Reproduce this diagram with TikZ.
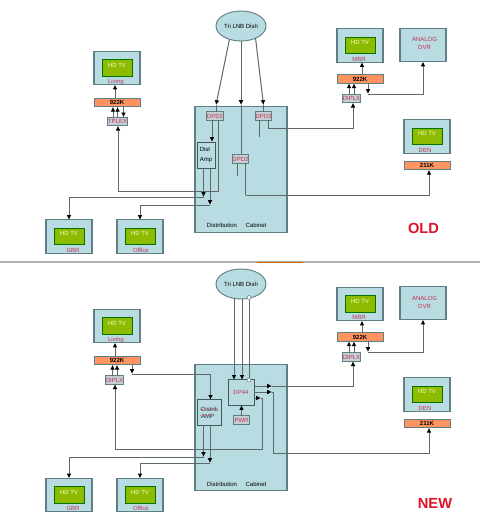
\documentclass[tikz,border=0pt]{standalone}
\usepackage{fontspec}
\setmainfont{Liberation Sans}
\usetikzlibrary{arrows.meta,shapes.geometric}
\definecolor{pale}{HTML}{B8DCE2}
\definecolor{edge}{HTML}{5F7F84}
\definecolor{wirec}{HTML}{5F6868}
\definecolor{tvgreen}{HTML}{8DBB00}
\definecolor{salmon}{HTML}{FF9460}
\definecolor{lab}{HTML}{C42F50}
\definecolor{bigred}{HTML}{DC1428}
\definecolor{small}{HTML}{C4D0D6}
\newcommand{\fs}{\fontsize{4.5pt}{5.3pt}\selectfont}
\tikzset{
  x=0.75pt,y=-0.75pt,
  base/.style={inner sep=0pt,outer sep=0pt,font=\fs},
  tvbox/.style={base,draw=edge,fill=pale,line width=.8pt,minimum width=34.5pt,minimum height=25pt},
  screen/.style={base,draw=black!55!green,fill=tvgreen,line width=.7pt,minimum width=22.5pt,minimum height=12.5pt},
  tvtext/.style={base,text=white!80!yellow},
  lbl/.style={base,text=lab},
  rx/.style={base,draw=edge,fill=salmon,line width=.7pt,minimum width=34.5pt,minimum height=6.5pt,font=\fs\bfseries},
  tag/.style={base,draw=edge,fill=small,line width=.7pt,minimum height=6.3pt,text=lab},
  cab/.style={base,draw=edge,fill=pale,line width=.9pt,minimum width=69pt},
  amp/.style={base,draw=edge!70!black,fill=pale,line width=.7pt,align=left},
  dish/.style={base,ellipse,draw=edge,fill=pale,line width=.7pt,minimum width=37.5pt,minimum height=22.5pt},
  wire/.style={draw=wirec,line width=.75pt},
  arr/.style={wire,-{Latex[length=3.6pt,width=3.6pt,color=black]}},
  big/.style={base,text=bigred,font=\fontsize{11pt}{12pt}\selectfont\bfseries},
  rule/.style={draw=black!30,line width=1.4pt},
  squig/.style={draw=lab!70,line width=.35pt,densely dotted},
}
\newcommand{\tv}[5]{% name, cx, cy, label, label dx
  \node[tvbox] (#1) at (#2,#3) {};
  \node[screen] (#1s) at (#2,#3) {};
  \node[tvtext] (#1t) at (#2,#3-3) {HD TV};
  \node[lbl] (#1l) at (#2+#5,#3+13.5) {#4};
}
\begin{document}
\begin{tikzpicture}
\useasboundingbox (0,0) rectangle (480,525);
\fill[white] (0,0) rectangle (480,525);
\coordinate (ruleL) at (0,262);
\coordinate (ruleR) at (480,262);
\coordinate (markL) at (257,262.5);
\coordinate (markR) at (303,262.5);
\draw[rule] (ruleL) -- (ruleR);
\draw[draw=orange!80!black,line width=1.2pt] (markL) -- (markR);

% ---------- OLD ----------
\node[cab,minimum height=94pt] (cabA) at (241,169.5) {};
\node[base] (cabAd) at (222,225.5) {Distribution};
\node[base] (cabAc) at (256,225.5) {Cabinet};
\node[dish] (dishA) at (241,26) {Tri LNB Dish};
\tv{liv}{117}{68}{Living}{-1}
\node[rx] (rxL) at (117,102.5) {922K};
\node[tag,minimum width=15.5pt] (tplex) at (117.5,121.5) {TPLEX};
\tv{gbr}{69}{236.5}{GBR}{4}
\tv{off}{140}{236.5}{Office}{1}
\node[tag,minimum width=12.5pt] (dpa) at (215,116) {DPD2};
\node[tag,minimum width=12.5pt] (dpb) at (263.5,116) {DPD2};
\node[tag,minimum width=12.5pt] (dpc) at (240.5,159) {DPD2};
\node[amp,minimum width=13.5pt,minimum height=19.5pt] (dist) at (206,155) {Dist\\[1.6pt]Amp};
\tv{mbr}{360}{45.5}{MBR}{-1}
\node[rx] (rxM) at (360,79) {922K};
\node[tag,minimum width=12.5pt] (dplxM) at (351.5,98.5) {DIPLX};
\node[tvbox] (dvr) at (423,45) {};
\node[lbl,align=center] (dvrt) at (424.5,43) {ANALOG\\[.6pt]DVR};
\tv{den}{427}{136.5}{DEN}{-2}
\node[rx] (rxD) at (427,165.5) {211K};
\node[big] (old) at (423.5,228) {OLD};

\coordinate (a1) at (216,105);
\coordinate (a2) at (241,105);
\coordinate (a3) at (263.5,105);
\coordinate (a4) at (203.5,197);
\coordinate (a5) at (210,205);
\coordinate (a6) at (218,191);
\coordinate (a7) at (118,191);
\coordinate (a8) at (268,128);
\coordinate (a9) at (245.5,195);
\coordinate (a10) at (368,94);
\coordinate (s1) at (113,0);\coordinate (s2) at (117.5,0);\coordinate (s3) at (123.5,0);
\coordinate (s4) at (349,0);\coordinate (s5) at (354,0);
\coordinate (s6) at (237,176);
\coordinate (s7) at (259.5,137);
\draw[arr] (dishA.-131) -- (a1);
\draw[wire] (a1) -- (dpa.north -| a1);
\draw[arr] (dishA.south -| a2) -- (a2);
\draw[wire] (a2) -- (dpc.north -| a2);
\draw[arr] (dishA.-40) -- (a3);
\draw[wire] (a3) -- (dpb.north);
\draw[arr] (dpa.south -| 212,0) -- (dist.north -| 212,0);
\draw[arr] (dist.south -| a4) -- (a4);
\draw[arr] (a4) -| (gbr.north);
\draw[arr] (dist.south -| a5) -- (a5);
\draw[arr] (a5) -| (off.north);
\draw[wire] (dpa.south -| a6) -- (a6) -- (a7);
\draw[arr] (a7) -- (tplex.south -| a7);
\draw[arr] (rxL.north -| 115,0) -- (liv.south -| 115,0);
\draw[arr] (tplex.north -| s1) -- (rxL.south -| s1);
\draw[arr] (tplex.north -| s2) -- (rxL.south -| s2);
\draw[arr] (rxL.south -| s3) -- (tplex.north -| s3);
\draw[wire] (dpc.south -| s6) -- (s6);
\draw[wire] (dpb.south -| s7) -- (s7);
\draw[wire] (dpb.south -| a8) -- (a8);
\draw[arr] (a8) -| (dplxM.south -| 353,0);
\draw[wire] (dpc.south -| a9) -- (a9);
\draw[arr] (a9) -| (rxD.south -| 429,0);
\draw[arr] (rxM.north -| 362,0) -- (mbr.south -| 362,0);
\draw[arr] (dplxM.north -| s4) -- (rxM.south -| s4);
\draw[arr] (dplxM.north -| s5) -- (rxM.south -| s5);
\draw[arr] (rxM.south -| a10) -- (a10);
\draw[arr] (a10) -| (dvr.south);

% ---------- NEW ----------
\node[cab,minimum height=94pt] (cabB) at (241,427.5) {};
\node[base] (cabBd) at (222,484) {Distribution};
\node[base] (cabBc) at (256,484) {Cabinet};
\node[dish] (dishB) at (241,284) {Tri LNB Dish};
\tv{livB}{117}{326}{Living}{-1}
\node[rx] (rxLB) at (117,360.5) {922K};
\node[tag,minimum width=12.5pt] (dplxL) at (114.5,380) {DIPLX};
\tv{gbrB}{69}{495}{GBR}{4}
\tv{offB}{140}{495}{Office}{1}
\node[amp,minimum width=18.5pt,minimum height=19pt,text=black!85] (distB) at (209.5,412.5) {Distrib\\AMP};
\node[base,draw=edge!70!black,fill=pale,line width=.7pt,minimum width=19.5pt,minimum height=19pt,text=lab] (dp44) at (241,392.5) {DP44};
\node[tag,minimum width=12.5pt] (pwr) at (241.5,420) {PWR};
\tv{mbrB}{360}{304}{MBR}{-1}
\node[rx] (rxMB) at (360,337) {922K};
\node[tag,minimum width=12.5pt] (dplxB) at (351.5,357) {DIPLX};
\node[tvbox] (dvrB) at (423,303) {};
\node[lbl,align=center] (dvrBt) at (424.5,302) {ANALOG\\[.6pt]DVR};
\tv{denB}{427}{394.5}{DEN}{-2}
\node[rx] (rxDB) at (427,423.5) {211K};
\node[big] (new) at (435,503) {NEW};
\node[base,circle,draw=edge,fill=white,line width=.4pt,minimum size=3pt] (portA) at (249,297.5) {};
\node[base,circle,draw=edge,fill=white,line width=.4pt,minimum size=3pt] (portB) at (249,380) {};
\coordinate (u1a) at (200,409);\coordinate (u1b) at (216,409);
\coordinate (u2a) at (200,415.5);\coordinate (u2b) at (212,415.5);
\draw[squig] (u1a) -- (u1b);
\draw[squig] (u2a) -- (u2b);

\coordinate (b1) at (132,374);
\coordinate (b2) at (210.5,374);
\coordinate (b3) at (203.5,457);
\coordinate (b4) at (210,463);
\coordinate (b5) at (272,386);
\coordinate (b6) at (272,392);
\coordinate (b7) at (261,398);
\coordinate (b8) at (262,449);
\coordinate (b9) at (115,449);
\coordinate (b10) at (273,453);
\coordinate (b11) at (368,352);
\coordinate (t1) at (234,0);\coordinate (t2) at (242,0);
\coordinate (t3) at (112.5,0);\coordinate (t4) at (117,0);
\draw[arr] (dishB.south -| t1) -- (dp44.north -| t1);
\draw[arr] (dishB.south -| t2) -- (dp44.north -| t2);
\draw[wire] (portA) -- (portB);
\draw[arr] (pwr.north) -- (dp44.south -| pwr.north);
\draw[arr] (rxLB.north -| 115,0) -- (livB.south -| 115,0);
\draw[arr] (dplxL.north -| t3) -- (rxLB.south -| t3);
\draw[arr] (dplxL.north -| t4) -- (rxLB.south -| t4);
\draw[arr] (rxLB.south -| b1) -- (b1);
\draw[wire] (b1) -- (b2);
\draw[arr] (b2) -- (distB.north -| b2);
\draw[arr] (distB.south -| b3) -- (b3);
\draw[arr] (b3) -| (gbrB.north);
\draw[arr] (distB.south -| b4) -- (b4);
\draw[arr] (b4) -| (offB.north);
\draw[arr] (dp44.east |- b5) -- (b5);
\draw[arr] (b5) -| (dplxB.south -| 353,0);
\draw[arr] (dp44.east |- b6) -- (b6);
\draw[wire] (b6) -| (b10);
\draw[arr] (b10) -| (rxDB.south -| 429,0);
\draw[arr] (dp44.east |- b7) -- (b7);
\draw[wire] (b7) -- (b8 |- b7) -- (b8) -- (b9);
\draw[arr] (b9) -- (dplxL.south -| b9);
\draw[arr] (rxMB.north -| 362,0) -- (mbrB.south -| 362,0);
\draw[arr] (dplxB.north -| 349,0) -- (rxMB.south -| 349,0);
\draw[arr] (dplxB.north -| 354,0) -- (rxMB.south -| 354,0);
\draw[arr] (rxMB.south -| b11) -- (b11);
\draw[arr] (b11) -| (dvrB.south);
\end{tikzpicture}
\end{document}
